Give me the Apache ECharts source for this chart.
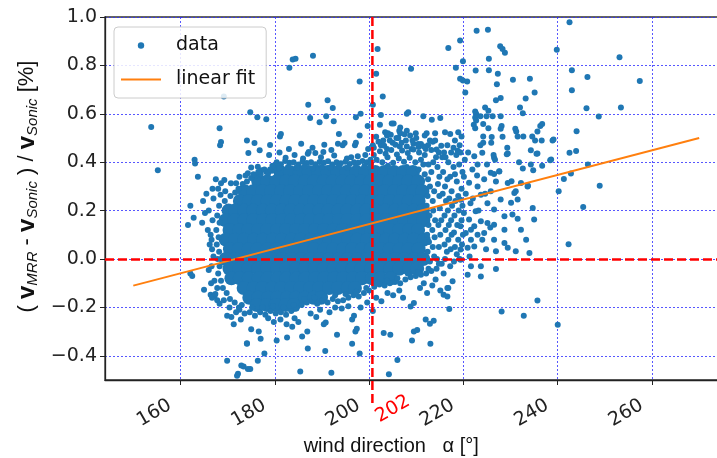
<!DOCTYPE html>
<html><head><meta charset="utf-8">
<script src="https://cdn.jsdelivr.net/npm/echarts@6/dist/echarts.min.js"></script>
<style>html,body{margin:0;padding:0;background:#fff}#c{width:717px;height:458px}</style>
</head><body><div id="c"></div>
<script>
// ---- tick labels ----
const xTicks = [160, 180, 200, 220, 240, 260];
const yTicks = [-0.4, -0.2, 0.0, 0.2, 0.4, 0.6, 0.8, 1.0];
const refX = 200.7;        // red reference line (drawn position)
const refLabel = '202';
const refY = 0.0;

// ---- linear fit ----
const fitX = [150, 270];
const fitY = [-0.11, 0.50];

// ---- dense core of the data cloud (rows) ----
const coreY = [0.36, 0.32, 0.28, 0.24, 0.20, 0.16, 0.12, 0.08, 0.04, 0.00, -0.04, -0.08, -0.12, -0.16, -0.19];
const coreX = [
  [181.2,183.2,185.3,187.2,189.3,191.2,193.3,195.2,197.3,199.2,201.3,203.2,205.3,207.2,209.3],
  [176.5,178.4,180.3,182.4,184.3,186.4,188.3,190.4,192.3,194.4,196.3,198.4,200.3,202.4,204.3,206.4,208.3,210.4],
  [173.6,175.4,177.4,179.3,181.4,183.3,185.4,187.3,189.4,191.3,193.4,195.3,197.4,199.3,201.4,203.3,205.4,207.3,209.4,211.3],
  [172.6,174.5,176.4,178.5,180.4,182.5,184.4,186.5,188.4,190.5,192.4,194.5,196.4,198.5,200.4,202.5,204.4,206.5,208.4,210.5],
  [170.2,171.6,173.5,175.4,177.5,179.4,181.5,183.4,185.5,187.4,189.5,191.4,193.5,195.4,197.5,199.4,201.5,203.4,205.5,207.4,209.5,211.4],
  [169.6,171.5,173.6,175.5,177.6,179.5,181.6,183.5,185.6,187.5,189.6,191.5,193.6,195.5,197.6,199.5,201.6,203.5,205.6,207.5,209.6,211.5],
  [170.4,172.5,174.4,176.5,178.4,180.5,182.4,184.5,186.4,188.5,190.4,192.5,194.4,196.5,198.4,200.5,202.4,204.5,206.4,208.5,210.4],
  [169.6,171.6,173.5,175.6,177.5,179.6,181.5,183.6,185.5,187.6,189.5,191.6,193.5,195.6,197.5,199.6,201.5,203.6,205.5,207.6,209.5,211.6],
  [170.5,172.4,174.5,176.4,178.5,180.4,182.5,184.4,186.5,188.4,190.5,192.4,194.5,196.4,198.5,200.4,202.5,204.4,206.5,208.4,210.5],
  [169.6,171.5,173.6,175.5,177.6,179.5,181.6,183.5,185.6,187.5,189.6,191.5,193.6,195.5,197.6,199.5,201.6,203.5,205.6,207.5,209.6,211.5],
  [170.4,172.5,174.4,176.5,178.4,180.5,182.4,184.5,186.4,188.5,190.4,192.5,194.4,196.5,198.4,200.5,202.4,204.5,206.4,208.5,210.2],
  [170.8,172.6,174.5,176.6,178.5,180.6,182.5,184.6,186.5,188.6,190.5,192.6,194.5,196.6,198.5,200.6,202.5,204.6],
  [173.4,175.5,177.4,179.5,181.4,183.5,185.4,187.5,189.4,191.5,193.4,195.5,197.0],
  [174.6,176.5,178.6,180.5,182.6,184.5,186.4,188.3,189.8],
  [176.2,178.3,180.2,182.3,184.0]
];

// ---- cloud fringe and outliers ----
const dataLeft = [
  [168.2,0.22],[167.8,0.18],[168.3,0.15],[167.6,0.12],[168.1,0.09],[167.7,0.06],[168.2,0.03],[167.9,0.0],[168.3,-0.03],[168.0,-0.06],[168.6,-0.09],[169.0,-0.12],[169.8,-0.14],[170.5,-0.165],[171.5,-0.18],[172.4,-0.2],
  [169.4,0.24],[170.6,0.26],[171.6,0.275],[172.3,0.29],[173.2,0.31],[174.1,0.32],[175.0,0.335],[176.0,0.345],[177.0,0.35],[178.2,0.36],[179.4,0.365],[180.2,0.38],
  [166.4,0.10],[166.6,0.08],[166.2,0.06],[166.7,0.04],[167.0,0.01],[162.1,0.22],[162.8,0.17],[161.6,0.14],[164.6,0.15],[162.1,-0.06],[162.5,-0.07],[165.0,-0.127],[166.4,-0.148],[167.2,-0.155],[167.8,-0.17],[168.3,-0.185],[166.0,-0.045],[166.6,-0.03],
  [165.5,0.27],[164.8,0.24],[166.0,0.2],[165.2,0.19],[166.8,0.16],[165.8,0.12],[167.0,0.25],[168.5,0.265],[169.5,0.28],[167.2,-0.09],[166.5,-0.1],[167.8,-0.12],[169.2,-0.17],[170.4,-0.2],[170.8,-0.24],
  [166.8,0.29],[167.5,0.33],[168.0,0.29],[168.6,0.313],[169.3,0.326],[170.7,0.313],[171.8,0.313],[172.5,0.34],[173.8,0.345],[174.3,0.354],[175.0,0.378],[176.4,0.381],[177.1,0.367],[175.5,0.35]
];
const dataTop = [
  [176.5,0.36],[177.8,0.37],[178.6,0.355],[179.5,0.385],[180.4,0.40],[181.3,0.392],[182.2,0.405],[183.1,0.398],[184.0,0.40],[185.0,0.39],[185.9,0.403],[186.8,0.397],[187.7,0.40],[188.6,0.392],[189.5,0.401],[190.4,0.398],[191.3,0.404],[192.2,0.39],[193.1,0.40],[194.0,0.396],[195.0,0.402],[195.9,0.393],[196.8,0.40],[197.7,0.398],[198.6,0.405],[199.5,0.40],[200.3,0.41],
  [179.0,0.37],[180.9,0.375],[182.8,0.38],[184.6,0.378],[186.3,0.382],[188.1,0.375],[190.0,0.38],[191.8,0.378],[193.6,0.382],[195.4,0.377],[197.2,0.38],[199.0,0.383],
  [178.8,0.43],[181.0,0.44],[182.3,0.418],[183.0,0.455],[184.2,0.43],[185.6,0.476],[186.0,0.415],[187.0,0.435],[187.2,0.442],[188.0,0.46],[188.6,0.438],[189.8,0.42],[190.3,0.442],[190.5,0.472],[192.0,0.45],[192.6,0.428],[193.4,0.476],[194.4,0.47],[194.8,0.479],[195.3,0.415],[196.2,0.42],[197.0,0.47],[197.2,0.48],[197.6,0.425],[198.0,0.51],[199.2,0.43],[199.8,0.455],[199.7,0.55],[193.6,0.517],[181.1,0.506],[181.3,0.517],[179.0,0.471],[176.8,0.449],[175.7,0.479],[174.4,0.438],[174.1,0.49],
  [153.8,0.545],[155.2,0.367],[169.2,0.671],[163.0,0.41],[163.1,0.395],[163.7,0.34],[168.3,0.54],[168.6,0.483],[168.4,0.47],[174.8,0.606],[176.3,0.586],[178.2,0.577],[183.1,0.79],[183.8,0.824],[184.4,0.827],[188.1,0.84],[187.1,0.637],[191.2,0.656],[192.3,0.624],[187.5,0.583],[189.5,0.565],[190.9,0.59],[192.5,0.569],[198.0,0.733],[197.2,0.586],[198.2,0.60],[200.8,0.637],[201.8,0.868],[201.5,0.766],[202.9,0.671],[202.5,0.595],[202.3,0.555],[205.2,0.56],[208.0,0.60],[208.9,0.786],
  [204.0,0.52],[204.6,0.513],[206.4,0.53],[206.6,0.52],[204.8,0.56],[206.6,0.543],[208.0,0.53],[208.7,0.51],[203.4,0.524],[208.3,0.606],[211.5,0.59],[213.3,0.575],[215.1,0.583],[212.2,0.52],[214.0,0.52],[216.1,0.524],[217.2,0.517],[218.9,0.524],[218.2,0.49],[219.2,0.47],[219.6,0.506],[209.4,0.476],[210.5,0.463],[212.9,0.49],[214.3,0.452],[215.3,0.468],[217.4,0.44],[218.8,0.447],
  [201.0,0.46],[202.5,0.47],[203.8,0.455],[205.0,0.48],[206.5,0.465],[207.8,0.49],[209.0,0.455],[211.0,0.475],[212.0,0.455],[213.5,0.485],[214.8,0.44],[203.0,0.49],[205.8,0.50],[210.0,0.50],[211.8,0.51],
  [200.4,0.395],[201.6,0.41],[202.8,0.40],[203.9,0.42],[205.1,0.398],[206.3,0.415],[207.4,0.402],[208.6,0.418],[209.8,0.40],[211.0,0.41],[201.0,0.43],[202.3,0.445],[203.5,0.435],[204.7,0.45],[205.9,0.432],[207.0,0.448],[208.2,0.438],[209.4,0.452],[210.6,0.44],[211.8,0.43],[200.8,0.47],[202.0,0.485],[203.2,0.468],[204.4,0.49],[205.6,0.472],[206.9,0.48],[208.0,0.465],[209.2,0.49],[210.4,0.475],[211.6,0.465],[201.5,0.505],[203.8,0.51],[206.2,0.50],[207.5,0.515],[209.9,0.52],[200.2,0.38],[204.0,0.385],[208.0,0.38],[211.5,0.39],[210.5,0.37]
];
const dataRight = [
  [215.5,0.42],[216.8,0.40],[217.9,0.38],[215.7,0.36],[217.2,0.34],[218.6,0.32],[216.1,0.30],[217.5,0.28],[218.9,0.26],[216.3,0.24],[217.6,0.22],[219.0,0.2],[216.0,0.18],[217.4,0.16],[218.7,0.14],[216.2,0.12],[217.5,0.10],[218.9,0.08],[216.0,0.06],[217.3,0.04],[218.6,0.02],[216.1,0.0],[217.2,-0.03],[215.8,-0.06],[219.6,0.29],[220.3,0.41],[219.8,0.36],[218.5,0.43],
  [211.8,0.35],[212.5,0.33],[213.2,0.36],[212.9,0.30],[213.8,0.28],[212.4,0.26],[213.5,0.24],[212.2,0.22],[213.6,0.20],[212.8,0.18],[214.0,0.16],[212.6,0.14],[213.4,0.12],[212.3,0.10],[213.9,0.09],[212.7,0.07],[213.5,0.05],[212.4,0.03],[213.8,0.01],[212.9,-0.01],[214.6,0.31],[214.9,0.26],[215.0,0.21],[214.7,0.14],[215.1,0.10],[214.8,0.05],[214.4,0.0],[214.9,0.34],[214.5,0.38],[213.6,0.40],[212.6,0.39],[214.2,0.42],[215.9,0.44],[216.6,0.47],[217.9,0.46],[219.4,0.44],[216.6,0.33],[218.2,0.35],[219.1,0.39],[217.0,0.25],[218.3,0.24],[219.8,0.22],[216.7,0.20],[218.1,0.18],[219.6,0.16],[216.9,0.14],[218.0,0.11],[219.9,0.10],[216.8,0.08],[218.2,0.05],[219.7,0.06],[216.5,0.03],[218.0,-0.01],[219.2,0.0],[215.6,0.27],[215.3,0.16],[216.2,0.42],[213.2,0.45],[212.5,0.47],[214.0,0.49],
  [220.1,0.34],[221.2,0.315],[221.9,0.37],[220.5,0.27],[219.4,0.245],[221.5,0.23],[220.1,0.19],[221.2,0.163],[219.4,0.135],[220.5,0.107],[221.6,0.08],[219.4,0.039],
  [221.0,0.44],[222.0,0.25],[223.2,0.20],[224.6,0.27],[225.7,0.13],[221.3,0.01],[224.8,0.04],[222.9,0.345],[225.0,0.39],[223.6,0.47],
  [223.0,0.39],[224.4,0.33],[226.9,0.32],[223.0,0.30],[225.1,0.23],[226.5,0.205],[222.6,0.197],[228.7,0.177],[230.4,0.184],[224.4,0.107],[226.5,0.08],[228.7,0.066],[231.5,0.166],[233.3,0.08],
  [222.3,0.425],[224.0,0.439],[226.5,0.418],[229.4,0.436],[231.8,0.40],[234.3,0.39],[235.7,0.436],[238.6,0.411],[225.8,0.356],[227.6,0.363],[229.4,0.314],[232.2,0.314],[233.6,0.30],[230.8,0.273],[223.7,0.266],[225.8,0.28],[227.9,0.246],[230.1,0.232],[231.5,0.246],[234.7,0.211],[235.0,0.163],[232.2,0.121],[228.7,0.121],[226.5,0.142],[225.1,0.149],[223.7,0.156],[222.3,0.135],[221.6,0.121],[223.0,0.10],[224.0,0.08],[222.3,0.052],[220.9,0.046],[226.9,0.032],[229.4,0.046],[234.0,0.025],[231.1,0.032],[219.4,-0.003],[221.6,-0.03],[223.7,-0.03],[220.9,-0.065],[223.7,-0.072],[226.9,-0.041],
  [242.5,0.439],[243.9,0.446],[246.4,0.39],[242.8,0.353],[241.3,0.331],[240.2,0.28],[248.9,0.303],[245.4,0.215],[242.3,0.061],
  [216.8,0.872],[219.3,0.903],[219.9,0.817],[218.4,0.79],[219.3,0.745],[219.9,0.738],[220.4,0.688],[220.8,0.733],[222.8,0.943],[225.2,0.947],[227.8,0.879],[228.3,0.868],[228.8,0.852],[225.4,0.827],[222.6,0.779],[225.4,0.78],[227.3,0.766],[230.5,0.741],[234.1,0.745],[227.1,0.722],[235.1,0.688],[226.9,0.656],[227.9,0.665],[233.2,0.663],[232.0,0.626],[232.6,0.602],[239.8,0.865],[242.5,0.978],[243.0,0.78],[243.0,0.697],[244.0,0.528],[253.1,0.834],[257.4,0.736],[246.3,0.752],[246.1,0.623],[253.4,0.626],[248.7,0.589],
  [222.5,0.61],[222.7,0.60],[222.5,0.585],[222.7,0.572],[222.2,0.555],[222.5,0.54],[224.6,0.626],[225.3,0.613],[223.6,0.59],[224.9,0.59],[226.2,0.59],[227.9,0.59],[224.2,0.558],[225.3,0.54],[228.1,0.55],[227.9,0.538],[224.2,0.506],[226.0,0.504],[224.2,0.48],[231.0,0.538],[231.2,0.527],[231.5,0.506],[232.7,0.506],[234.6,0.506],[236.3,0.55],[236.7,0.558],[235.7,0.527],[235.2,0.49],[236.6,0.49],[238.9,0.49],[234.3,0.449],[235.5,0.435],[238.4,0.408],[232.6,0.374],[234.8,0.367],[236.7,0.385],[229.2,0.433],[226.4,0.43],[226.7,0.41],[228.3,0.505],[225.9,0.48],[239.1,0.494],[229.3,0.46],[230.2,0.321],[233.7,0.303],[231.1,0.28],[227.6,0.362],[226.5,0.351]
];
const dataBottom = [
  [172.5,-0.21],[173.6,-0.225],[174.7,-0.22],[175.8,-0.235],[176.9,-0.22],[178.0,-0.23],[179.1,-0.215],[180.2,-0.225],[181.3,-0.22],[182.4,-0.23],[183.5,-0.215],[184.6,-0.205],[185.7,-0.19],[186.8,-0.18],[187.9,-0.175],[189.0,-0.185],[190.1,-0.17],[191.2,-0.18],[192.3,-0.165],[193.4,-0.175],[194.5,-0.17],[195.6,-0.16],[196.7,-0.15],[197.8,-0.155],[198.9,-0.14],[200.0,-0.13],[201.1,-0.115],[202.2,-0.105],[203.3,-0.11],[204.4,-0.10],[205.5,-0.095],[206.6,-0.10],[207.7,-0.085],[208.8,-0.075],[209.9,-0.07],[211.0,-0.065],[212.1,-0.06],[213.2,-0.05],[214.3,-0.04],[215.4,-0.02],
  [173.0,-0.19],[175.2,-0.20],[177.4,-0.20],[179.6,-0.195],[181.8,-0.20],[184.0,-0.19],[186.2,-0.165],[188.4,-0.16],[190.6,-0.155],[192.8,-0.15],[195.0,-0.145],[197.2,-0.135],[199.4,-0.12],[201.6,-0.095],[203.8,-0.09],[206.0,-0.08],[208.2,-0.06],[210.4,-0.055],[212.6,-0.04],[214.8,-0.02],
  [169.9,-0.42],[172.2,-0.474],[173.4,-0.444],[174.8,-0.455],[176.4,-0.42],[177.8,-0.39],[174.1,-0.348],[177.0,-0.33],[175.0,-0.29],[176.6,-0.30],[171.3,-0.27],[171.8,-0.22],[172.8,-0.25],[180.4,-0.337],[182.6,-0.324],[183.7,-0.28],[185.8,-0.32],[186.9,-0.30],[187.0,-0.37],[185.4,-0.465],[190.7,-0.38],[192.0,-0.47],[190.4,-0.27],[190.8,-0.262],[193.2,-0.313],[196.4,-0.35],[198.0,-0.39],[197.1,-0.30],[197.4,-0.288],[196.4,-0.25],[196.8,-0.235],[203.1,-0.306],[204.5,-0.313],[206.0,-0.417],[204.2,-0.476],[209.1,-0.337],[209.5,-0.30],[210.2,-0.293],[212.0,-0.25],[212.9,-0.268],[213.7,-0.255],[213.0,-0.35],[208.8,-0.196],[209.5,-0.182],[215.1,-0.13],[215.8,-0.148],[216.8,-0.12],
  [178.6,-0.245],[179.8,-0.26],[181.2,-0.25],[182.5,-0.27],[184.2,-0.245],[185.0,-0.26],[187.6,-0.225],[188.8,-0.24],[189.6,-0.21],[191.6,-0.22],[192.8,-0.20],[194.2,-0.205],[195.6,-0.195],[198.2,-0.20],[199.6,-0.18],[200.8,-0.215],[201.5,-0.16],[202.6,-0.175],[203.9,-0.14],[205.1,-0.15],[206.4,-0.13],[207.2,-0.16],[210.8,-0.12],[211.6,-0.10],[213.4,-0.11],[214.1,-0.085],[212.3,-0.14],
  [217.7,-0.092],[216.6,-0.12],[216.6,-0.155],[217.0,-0.207],[235.7,-0.171],[228.1,-0.217],[232.8,-0.234],[240.0,-0.272],
  [166.7,-0.16],[167.4,-0.145],[169.9,-0.235],[174.1,-0.35],[172.9,-0.44],[174.3,-0.455],[172.0,-0.482]
];

// ---- build library structures ----
const dataCore = [];
coreY.forEach((y, i) => coreX[i].forEach(x => dataCore.push([x, y])));
const dataEdge = dataLeft.concat(dataTop, dataRight, dataBottom);
const fitData = fitX.map((x, i) => [x, fitY[i]]);

const xMin = 144, xMax = 276, yMin = -0.5, yMax = 1.0;
const blue = '#1f77b4';
const dotIcon = 'path://M0 0M40 14M16.8 7A3.2 3.2 0 1 1 23.2 7A3.2 3.2 0 1 1 16.8 7Z';
const lineIcon = 'path://M0 0M40 14M0 6L40 6L40 8L0 8Z';
const gridStyle = {color: 'rgba(45,45,255,0.8)', type: [2, 2], width: 1};

const chart = echarts.init(document.getElementById('c'), null, {renderer: 'canvas'});
chart.setOption({
  animation: false,
  backgroundColor: '#fff',
  grid: {left: 105, top: 17, width: 622.5, height: 363, outerBoundsMode: 'none', containLabel: false,
    show: true, borderColor: '#333', borderWidth: 1.3, backgroundColor: 'transparent'},
  legend: {
    left: 114, top: 27, orient: 'vertical', itemWidth: 40, itemHeight: 14, itemGap: 15,
    padding: [9, 11, 9, 7], borderColor: '#ccc', borderWidth: 1, borderRadius: 4,
    backgroundColor: 'rgba(255,255,255,0.85)',
    textStyle: {fontSize: 19, fontFamily: 'DejaVu Sans', color: '#111', padding: [0, 0, 0, 10]},
    data: [{name: 'data', icon: dotIcon, itemStyle: {color: blue}},
           {name: 'linear fit', icon: lineIcon, itemStyle: {color: '#ff7f0e'}}]
  },
  xAxis: {
    type: 'value', min: xMin, max: xMax,
    axisLine: {show: true, onZero: false, lineStyle: {color: '#222', width: 1.3}},
    axisTick: {show: true, customValues: xTicks, length: 5, lineStyle: {color: '#222'}},
    axisLabel: {customValues: xTicks, rotate: 30, margin: 18, padding: [0, 12, 0, 0], fontSize: 19, fontFamily: 'DejaVu Sans', color: '#222'},
    splitLine: {show: true, lineStyle: gridStyle},
    name: 'wind direction   α [°]', nameLocation: 'middle', nameGap: 54,
    nameTextStyle: {fontSize: 20, fontFamily: 'Liberation Sans', color: '#111', padding: [0, 50, 0, 0]}
  },
  yAxis: {
    type: 'value', min: yMin, max: yMax,
    axisLine: {show: true, onZero: false, lineStyle: {color: '#222', width: 1.3}},
    axisTick: {show: true, customValues: yTicks, length: 5, lineStyle: {color: '#222'}},
    axisLabel: {customValues: yTicks, margin: 8, fontSize: 19, fontFamily: 'DejaVu Sans', color: '#222',
      formatter: v => v.toFixed(1).replace('-', '\u2212')},
    splitLine: {show: true, lineStyle: gridStyle},
    name: '{p|( }{v|v}{s|MRR}{p| - }{v|v}{s|Sonic}{p| ) / }{v|v}{s|Sonic}{p| [%]}',
    nameLocation: 'middle', nameGap: 62, nameRotate: 90,
    nameTextStyle: {
      padding: [0, 0, 0, 24],
      rich: {
        p: {fontSize: 22, fontFamily: 'Liberation Sans', color: '#111', lineHeight: 26},
        v: {fontSize: 24, fontFamily: 'Liberation Sans', fontWeight: 'bold', color: '#111', lineHeight: 26},
        s: {fontSize: 15, fontFamily: 'Liberation Sans', fontStyle: 'italic', color: '#111', lineHeight: 16, verticalAlign: 'bottom'}
      }
    }
  },
  series: [
    {name: 'data', type: 'scatter', data: dataCore, symbolSize: 14, itemStyle: {color: blue, opacity: 1}, z: 2, silent: true},
    {name: 'data', type: 'scatter', data: dataEdge, symbolSize: 6, itemStyle: {color: blue, opacity: 1}, z: 2, silent: true},
    {name: 'linear fit', type: 'line', data: fitData, symbol: 'none', showSymbol: false, silent: true,
      lineStyle: {color: '#ff7f0e', width: 2}, itemStyle: {color: '#ff7f0e'}, z: 3,
      markLine: {silent: true, symbol: 'none', label: {show: false},
        lineStyle: {color: 'red', width: 2.5, type: [9, 4]}, data: [{yAxis: refY}]}}
  ]
});

const px = chart.convertToPixel({xAxisIndex: 0}, refX);
const pyTop = chart.convertToPixel({yAxisIndex: 0}, yMax);
const pyBot = chart.convertToPixel({yAxisIndex: 0}, yMin);
chart.setOption({graphic: [
  {type: 'line', silent: true, z: 100, shape: {x1: px, y1: pyTop, x2: px, y2: pyBot + 23},
    style: {stroke: 'red', lineWidth: 2.5, lineDash: [9, 4]}},
  {type: 'text', silent: true, z: 100, x: px + 36, y: pyBot + 20, rotation: Math.PI / 6,
    style: {text: refLabel, fill: 'red', font: '19px "DejaVu Sans"', textAlign: 'right', textVerticalAlign: 'middle', align: 'right', verticalAlign: 'middle'}}
]});
</script></body></html>
